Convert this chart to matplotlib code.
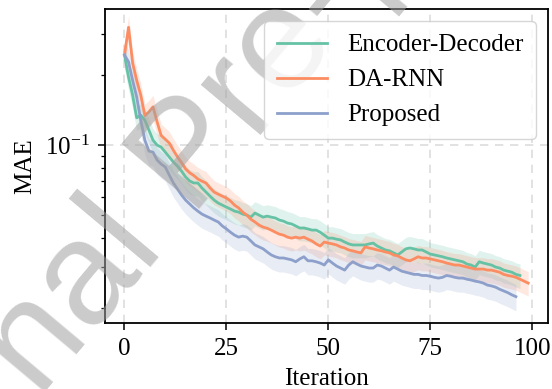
import numpy as np
import matplotlib
matplotlib.use("Agg")
import matplotlib.pyplot as plt

# MAE per iteration
enc_dec = [0.244, 0.196, 0.164, 0.131, 0.1345, 0.128, 0.116, 0.105, 0.100, 0.098,
           0.0933, 0.0888, 0.0845, 0.0812, 0.0773, 0.0729, 0.0701, 0.0687, 0.0687, 0.0654,
           0.0628, 0.0603, 0.0580, 0.0563, 0.0552, 0.0541, 0.0531, 0.0520, 0.0515, 0.0505,
           0.0500, 0.0490, 0.0510, 0.0500, 0.0490, 0.0495, 0.0490, 0.0486, 0.0476, 0.0471,
           0.0462, 0.0458, 0.0449, 0.0440, 0.0440, 0.0436, 0.0431, 0.0431, 0.0422, 0.0410,
           0.0398, 0.0398, 0.0394, 0.0391, 0.0383, 0.0376, 0.0372, 0.0372, 0.0372, 0.0372,
           0.0376, 0.0379, 0.0368, 0.0361, 0.0354, 0.0351, 0.0344, 0.0337, 0.0347, 0.0358,
           0.0361, 0.0358, 0.0354, 0.0354, 0.0347, 0.0340, 0.0337, 0.0334, 0.0331, 0.0327,
           0.0324, 0.0321, 0.0318, 0.0315, 0.0308, 0.0305, 0.0299, 0.0315, 0.0311, 0.0308,
           0.0305, 0.0299, 0.0296, 0.0290, 0.0287, 0.0284, 0.0278, 0.0275]

da_rnn = [0.244, 0.321, 0.226, 0.190, 0.164, 0.134, 0.139, 0.146, 0.126, 0.110,
          0.106, 0.102, 0.095, 0.089, 0.084, 0.079, 0.076, 0.074, 0.0715, 0.070,
          0.0687, 0.0654, 0.0628, 0.0615, 0.0603, 0.0592, 0.0575, 0.0552, 0.0537, 0.0515,
          0.0500, 0.0480, 0.0467, 0.0453, 0.0444, 0.0439, 0.0431, 0.0422, 0.0414, 0.0410,
          0.0402, 0.0398, 0.0402, 0.0398, 0.0402, 0.0394, 0.0387, 0.0376, 0.0368, 0.0383,
          0.0379, 0.0376, 0.0372, 0.0365, 0.0361, 0.0354, 0.0351, 0.0347, 0.0344, 0.0365,
          0.0361, 0.0358, 0.0354, 0.0351, 0.0347, 0.0344, 0.0337, 0.0334, 0.0327, 0.0321,
          0.0318, 0.0324, 0.0331, 0.0327, 0.0327, 0.0324, 0.0321, 0.0318, 0.0315, 0.0311,
          0.0308, 0.0305, 0.0305, 0.0302, 0.0299, 0.0296, 0.0293, 0.0293, 0.0293, 0.0290,
          0.0290, 0.0287, 0.0284, 0.0278, 0.0275, 0.0273, 0.0270, 0.0265, 0.0260, 0.0255]

proposed = [0.244, 0.228, 0.190, 0.161, 0.128, 0.105, 0.0942, 0.0933, 0.0862, 0.0829,
            0.0805, 0.0743, 0.0687, 0.0647, 0.0610, 0.0580, 0.0558, 0.0537, 0.0520, 0.0505,
            0.0495, 0.0486, 0.0476, 0.0467, 0.0449, 0.0436, 0.0422, 0.0410, 0.0402, 0.0406,
            0.0402, 0.0387, 0.0372, 0.0365, 0.0358, 0.0347, 0.0337, 0.0331, 0.0327, 0.0327,
            0.0324, 0.0321, 0.0315, 0.0324, 0.0331, 0.0318, 0.0318, 0.0315, 0.0311, 0.0305,
            0.0321, 0.0311, 0.0302, 0.0296, 0.0290, 0.0305, 0.0315, 0.0308, 0.0302, 0.0299,
            0.0296, 0.0296, 0.0305, 0.0302, 0.0296, 0.0290, 0.0299, 0.0293, 0.0287, 0.0284,
            0.0281, 0.0278, 0.0278, 0.0275, 0.0275, 0.0273, 0.0270, 0.0268, 0.0270, 0.0275,
            0.0273, 0.0270, 0.0268, 0.0268, 0.0265, 0.0263, 0.0260, 0.0258, 0.0255, 0.0250,
            0.0248, 0.0245, 0.0240, 0.0236, 0.0232, 0.0227, 0.0223]

# relative half-width of the shaded band
spread = {"Encoder-Decoder": 0.12, "DA-RNN": 0.12, "Proposed": 0.13}

series = [("Encoder-Decoder", enc_dec, "#66c2a5"),
          ("DA-RNN", da_rnn, "#fc8d62"),
          ("Proposed", proposed, "#8da0cb")]

plt.rcParams["font.family"] = ["Liberation Serif", "DejaVu Serif"]
plt.rcParams["mathtext.fontset"] = "stix"
plt.rcParams["font.size"] = 18

fig = plt.figure(figsize=(5.52, 3.89), dpi=100)
ax = fig.add_axes([0.190, 0.170, 0.803, 0.807])

for name, vals, color in series:
    y = np.array(vals)
    x = np.arange(len(y))
    s = spread[name]
    ax.fill_between(x, y * (1 - s), y * (1 + s), color=color, alpha=0.2, lw=0)
    ax.plot(x, y, color=color, lw=2, label=name)

ax.set_yscale("log")
ax.set_xlim(-4.8, 103.9)
ax.set_ylim(0.0172, 0.385)
ax.set_xticks([0, 25, 50, 75, 100])
ax.tick_params(which="major", length=5, width=1.1, pad=6)
ax.tick_params(which="minor", length=3, width=0.9)
ax.grid(True, which="major", ls=(0, (5, 4)), color="#dddddd", lw=1.2)
ax.set_axisbelow(True)
for sp in ax.spines.values():
    sp.set_linewidth(1.3)

ax.set_xlabel("Iteration", labelpad=6)
ax.set_ylabel("MAE", labelpad=6)
ax.legend(loc="upper right", fontsize=18, edgecolor="#cccccc",
          handlelength=2.0, handletextpad=0.8, borderaxespad=0.5,
          borderpad=0.5)

# watermark: above the curves, below the legend
ax.text(0.40, 0.53, "Journal Pre-proof", transform=fig.transFigure,
        rotation=50, rotation_mode="anchor", fontsize=106,
        family="Liberation Sans", color="#a0a0a0", alpha=0.55,
        ha="center", va="baseline", zorder=4, clip_on=False)

fig.savefig("out.png", dpi=100)
